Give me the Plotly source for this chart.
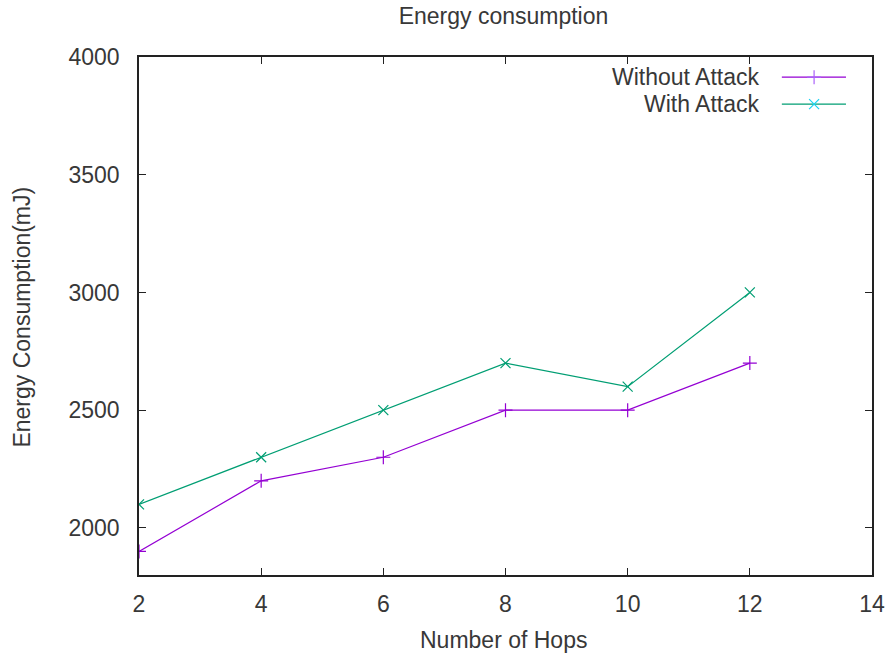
import plotly.graph_objects as go

hops = [2, 4, 6, 8, 10, 12]
without_attack = [1900, 2200, 2300, 2500, 2500, 2700]
with_attack = [2100, 2300, 2500, 2700, 2600, 3000]
x_ticks = [2, 4, 6, 8, 10, 12, 14]
y_ticks = [2000, 2500, 3000, 3500, 4000]
series_names = ["Without Attack", "With Attack"]
series_colors = ["#9400d3", "#009e73"]
series_symbols = ["cross-thin-open", "x-thin-open"]

FONT = "Liberation Sans, Arial, sans-serif"
FS = 23
TXT = "#383838"
AX = "#222222"

fig = go.Figure()
for vals, name, col, sym in zip([without_attack, with_attack], series_names, series_colors, series_symbols):
    fig.add_trace(go.Scatter(
        x=hops, y=vals, mode="lines+markers", name=name, showlegend=False,
        line=dict(color=col, width=1.2),
        marker=dict(symbol=sym, size=10, line=dict(color=col, width=1.2)),
    ))

# gnuplot-style key: text right-aligned, sample to the right
key_y = [0.961, 0.909]
for ky, name, col, sym in zip(key_y, series_names, series_colors, series_symbols):
    fig.add_trace(go.Scatter(
        x=[0.877, 0.9645], y=[ky, ky], xaxis="x2", yaxis="y2", mode="lines",
        line=dict(color=col, width=1.2), showlegend=False, hoverinfo="skip"))
    fig.add_trace(go.Scatter(
        x=[0.921], y=[ky], xaxis="x2", yaxis="y2", mode="markers",
        marker=dict(symbol=sym, size=10, line=dict(color=col, width=1.2)),
        showlegend=False, hoverinfo="skip"))
    fig.add_annotation(text=name, xref="paper", yref="paper", x=0.85, y=ky,
                       xanchor="right", yanchor="middle", showarrow=False,
                       font=dict(family=FONT, size=FS, color=TXT))

# axis titles
fig.add_annotation(text="Number of Hops", xref="paper", yref="paper", x=0.497, y=-0.1255,
                   xanchor="center", yanchor="middle", showarrow=False,
                   font=dict(family=FONT, size=FS, color=TXT))
fig.add_annotation(text="Energy Consumption(mJ)", xref="paper", yref="paper", x=-0.1596, y=0.497,
                   xanchor="center", yanchor="middle", showarrow=False, textangle=-90,
                   font=dict(family=FONT, size=FS, color=TXT))

axis_common = dict(showgrid=False, zeroline=False, showline=True, linecolor=AX,
                   linewidth=1.5, mirror="allticks", ticks="inside", ticklen=7,
                   tickwidth=1.3, tickcolor=AX, automargin=False,
                   tickfont=dict(family=FONT, size=FS, color=TXT))

fig.update_layout(
    width=888, height=655,
    margin=dict(l=139, r=16, t=57, b=80),
    paper_bgcolor="white", plot_bgcolor="white",
    title=dict(text="Energy consumption", x=0.567, xanchor="center", y=0.975, yanchor="middle",
               font=dict(family=FONT, size=FS, color=TXT)),
    xaxis=dict(range=[2, 14], tickvals=x_ticks, ticktext=[str(v) for v in x_ticks],
               ticklabelstandoff=8, **axis_common),
    yaxis=dict(range=[1800, 4000], tickvals=y_ticks, ticktext=[str(v) for v in y_ticks],
               ticklabelstandoff=13, **axis_common),
    xaxis2=dict(range=[0, 1], overlaying="x", visible=False, domain=[0, 1]),
    yaxis2=dict(range=[0, 1], overlaying="y", visible=False, domain=[0, 1]),
    showlegend=False,
)

fig.write_html("out.html")
